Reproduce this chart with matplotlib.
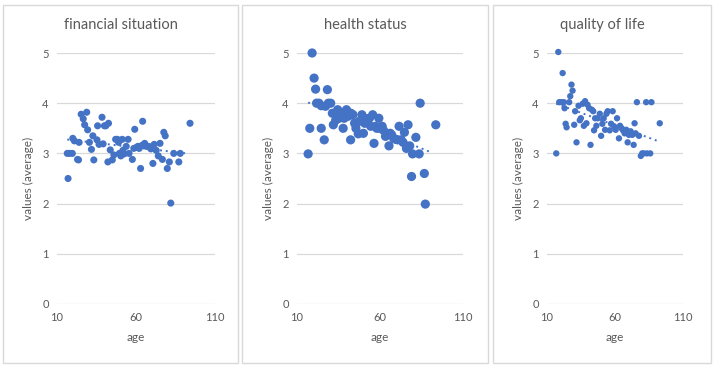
import matplotlib
matplotlib.use("Agg")
import matplotlib.pyplot as plt
from matplotlib.patches import Rectangle
import numpy as np

plt.rcParams['font.family'] = ['Lato', 'DejaVu Sans']

titles = ["financial situation", "health status", "quality of life"]

fin_age = [16.5, 17, 18, 19.7, 20, 21, 23, 23.6, 24, 25.3, 26.6, 27.5, 28.8, 29.4, 30.5, 31.8, 32.7, 33.3,
           35.3, 35.7, 36.6, 38.5, 39.2, 40, 40.9, 42.6, 42.2, 43.7, 45, 46, 47.1, 48.2, 49, 49.5, 50.4,
           51.3, 51.7, 52.5, 53.8, 55, 55.6, 57.7, 58.6, 59.2, 60.3, 61.2, 62, 62.9, 63.8, 64.2, 65.5,
           66.6, 68.1, 69.4, 70.7, 71.5, 72.8, 74.1, 75.2, 76.7, 77.6, 78.5, 79.8, 81.1, 82, 83.9, 87.1,
           88, 94.2]
fin_val = [3.0, 2.5, 3.0, 3.0, 3.3, 3.25, 2.88, 2.87, 3.22, 3.78, 3.69, 3.57, 3.82, 3.47, 3.22, 3.08, 3.35, 2.87,
           3.27, 3.55, 3.18, 3.72, 3.19, 3.55, 3.55, 3.6, 2.83, 3.07, 2.87, 2.97, 3.28, 3.28, 3.22, 3.0, 2.95,
           3.28, 3.06, 2.99, 3.14, 3.28, 3.0, 2.88, 3.1, 3.48, 3.12, 3.14, 3.1, 2.7, 3.16, 3.64, 3.2,
           3.14, 3.14, 3.09, 2.8, 3.18, 3.06, 2.95, 3.2, 2.88, 3.42, 3.35, 2.7, 2.83, 2.01, 3.0, 2.83,
           3.0, 3.6]

hea_age = [16.7, 17.7, 19.1, 20.3, 21.2, 21.8, 23.2, 24.6, 24.6, 26.4, 27.2, 28.3, 28.9, 30.3, 31.3, 31.9,
           33.3, 34.5, 35.4, 36.4, 37.8, 38.4, 39.8, 40.8, 42.3, 42.5, 43.7, 44.7, 45.5, 46.9, 47.5, 49.1,
           50, 50.8, 52, 53.6, 54.4, 55.6, 56.4, 57.3, 58.1, 59.3, 60.1, 61.3, 62.1, 63.3, 64.2, 65.4,
           66.2, 67, 68.2, 69.4, 70.6, 71.5, 72.7, 73.9, 74.7, 75.9, 76.9, 77.9, 79, 79.6, 81.6, 83.6,
           84.2, 86.7, 87.3, 93.6]
hea_val = [2.99, 3.5, 5.0, 4.5, 4.28, 4.0, 4.0, 3.5, 3.95, 3.27, 3.94, 4.27, 4.0, 4.0, 3.8, 3.57,
           3.66, 3.87, 3.7, 3.8, 3.5, 3.7, 3.87, 3.74, 3.27, 3.8, 3.77, 3.6, 3.5, 3.39, 3.64, 3.77,
           3.4, 3.6, 3.69, 3.7, 3.54, 3.77, 3.2, 3.54, 3.5, 3.7, 3.5, 3.54, 3.46, 3.34, 3.4, 3.15,
           3.4, 3.37, 3.3, 3.28, 3.27, 3.54, 3.27, 3.22, 3.42, 3.1, 3.57, 3.15, 2.54, 2.99, 3.32, 2.99,
           4.0, 2.6, 1.99, 3.57]

qol_age = [16.8, 18.3, 19, 20.7, 21.5, 22.4, 22.9, 23.7, 24.4, 26.3, 27.1, 28, 28.8, 30, 30.7, 31.7,
           33.2, 34.1, 34.9, 36.3, 37.1, 38, 39, 39.8, 41, 42, 43, 44, 44.6, 45.4, 46.3, 47.3, 48.8,
           49.8, 50.7, 51.7, 52.7, 53.7, 54.6, 56.1, 57.1, 58.3, 59.3, 60.5, 61.5, 62.9, 63.7, 64.9,
           65.9, 67.1, 68.3, 69.3, 70.2, 71.5, 72.7, 73.7, 74.4, 75.1, 76.1, 77.6, 79, 80, 81, 82.9,
           83.4, 85.9, 86.8, 92.9]
qol_val = [3.0, 5.02, 4.02, 4.02, 4.6, 4.02, 3.9, 3.59, 3.52, 4.02, 4.14, 4.37, 4.25, 3.57, 3.84, 3.22,
           3.95, 3.66, 3.7, 3.99, 3.55, 4.04, 3.6, 3.97, 3.9, 3.17, 3.87, 3.84, 3.46, 3.7, 3.55, 3.7, 3.79,
           3.35, 3.59, 3.7, 3.47, 3.79, 3.84, 3.46, 3.59, 3.84, 3.54, 3.47, 3.7, 3.3, 3.55, 3.5,
           3.46, 3.4, 3.47, 3.22, 3.37, 3.44, 3.37, 3.17, 3.6, 3.4, 4.02, 3.35, 2.95, 3.0, 3.0, 4.02,
           3.0, 3.0, 4.02, 3.6]

x_ticks = [10, 60, 110]
y_ticks = [0, 1, 2, 3, 4, 5]

W, H = 715, 368
fig = plt.figure(figsize=(W / 100, H / 100), dpi=100)

blue = "#4472C4"
grid_c = "#d9d9d9"
text_c = "#595959"

boxes = [(3, 238), (242, 488), (493, 711)]
axes_px = [(57, 215), (297, 463), (547, 683)]
msizes = [26, 44, 21]
datasets = [(fin_age, fin_val), (hea_age, hea_val), (qol_age, qol_val)]

for i in range(3):
    bx0, bx1 = boxes[i]
    fig.patches.append(Rectangle((bx0 / W, 1 - 363 / H), (bx1 - bx0) / W, (363 - 5) / H,
                                 transform=fig.transFigure, fill=False, edgecolor=grid_c, lw=1.0))
    fig.text((bx0 + bx1) / 2 / W, 1 - 25 / H, titles[i], ha='center', va='center',
             fontsize=10.5, color=text_c)
    ax0, ax1 = axes_px[i]
    ax = fig.add_axes([ax0 / W, (H - 304) / H, (ax1 - ax0) / W, 251 / H])
    ages, vals = datasets[i]
    ax.set_xlim(10, 110)
    ax.set_ylim(0, 5)
    ax.set_xticks(x_ticks)
    ax.set_yticks(y_ticks)
    ax.grid(axis='y', color=grid_c, lw=0.9)
    ax.set_axisbelow(True)
    for s in ax.spines.values():
        s.set_visible(False)
    ax.tick_params(length=0, labelsize=8, colors=text_c, pad=6)
    ax.scatter(ages, vals, s=msizes[i], color=blue, edgecolors='none', zorder=3, clip_on=False)
    a = np.array(ages)
    v = np.array(vals)
    k, b = np.polyfit(a, v, 1)
    xs = np.array([a.min(), a.max() - 2])
    ax.plot(xs, k * xs + b, linestyle=(0, (1, 2)), color=blue, lw=1.4, zorder=4)
    ax.set_xlabel("age", fontsize=8.5, color=text_c, labelpad=6)
    ax.set_ylabel("values (average)", fontsize=8.5, color=text_c, labelpad=6)

fig.savefig("out.png", dpi=100)
